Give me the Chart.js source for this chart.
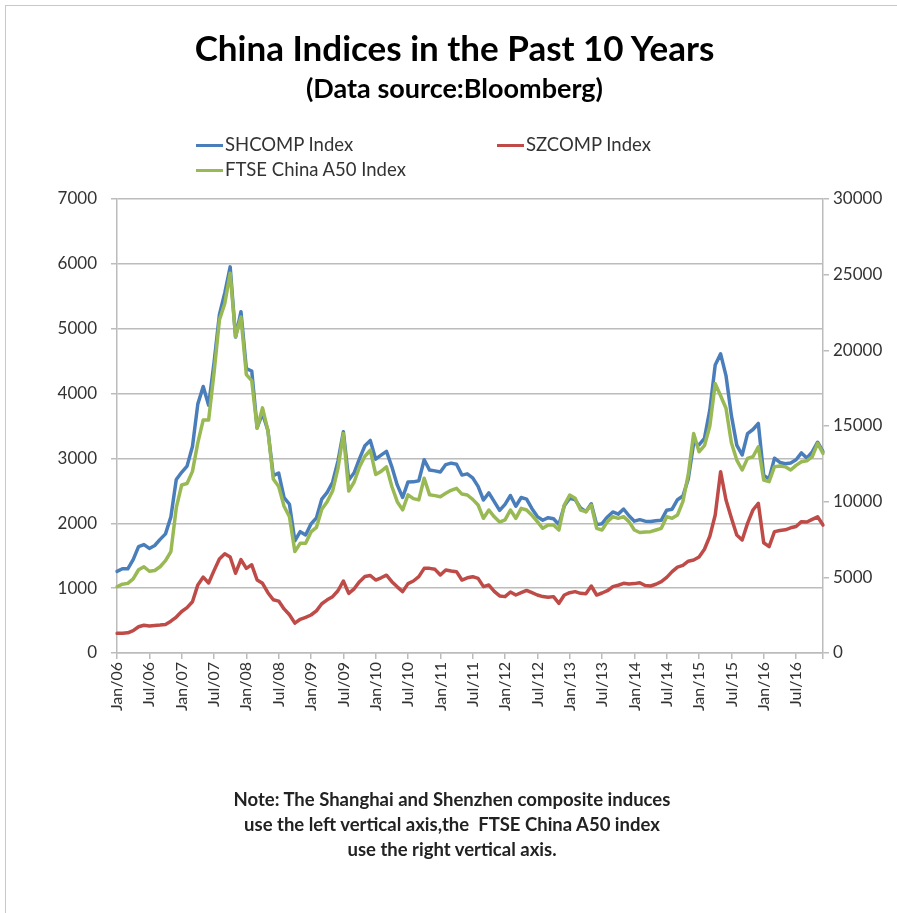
<!DOCTYPE html>
<html>
<head>
<meta charset="utf-8">
<script src="https://cdn.jsdelivr.net/npm/chart.js@4.4.0/dist/chart.umd.min.js"></script>
<style>
  body { margin:0; width:897px; height:913px; background:#fff; position:relative; overflow:hidden; font-family:Lato, "Open Sans", sans-serif; }
  #frame { position:absolute; left:5px; top:5px; width:900px; height:920px; border:1px solid #c8c8c8; }
  #chart { position:absolute; left:0; top:0; }
  .title { position:absolute; left:0; width:909px; text-align:center; font-weight:bold; color:#000; line-height:1.2; }
  .leg { position:absolute; font-size:18.5px; color:#333; white-space:nowrap; }
  .leg i { display:inline-block; width:27px; height:3px; vertical-align:middle; margin-right:2px; position:relative; top:-1px; }
  .note { position:absolute; left:0; width:904px; top:787px; text-align:center; font-weight:bold; font-size:18.5px; line-height:25px; color:#222; }
</style>
</head>
<body>
<div id="frame"></div>
<canvas id="chart" width="897" height="913"></canvas>
<div class="title" style="top:26px;font-size:35px;">China Indices in the Past 10 Years</div>
<div class="title" style="top:72px;font-size:27px;">(Data source:Bloomberg)</div>
<div id="legend"></div>
<div class="note">Note: The Shanghai and Shenzhen composite induces<br>use the left vertical axis,the&nbsp; FTSE China A50 index<br>use the right vertical axis.</div>
<script>
// month labels Jan/06 .. Dec/16
const monthNames = ["Jan","Feb","Mar","Apr","May","Jun","Jul","Aug","Sep","Oct","Nov","Dec"];
const years = ["06","07","08","09","10","11","12","13","14","15","16"];
const labels = [];
years.forEach(y => monthNames.forEach(m => labels.push(m + "/" + y)));

// SHCOMP Index (left axis)
const shcomp = [
  1258,1299,1298,1440,1641,1672,1612,1658,1752,1837,2099,2675,
  2786,2881,3183,3841,4109,3820,4471,5218,5552,5954,4871,5262,
  4383,4348,3473,3693,3433,2736,2775,2397,2293,1729,1871,1821,
  1991,2082,2373,2477,2633,2959,3412,2667,2779,2996,3195,3277,
  2989,3051,3109,2870,2592,2398,2638,2639,2656,2979,2820,2808,
  2790,2905,2928,2911,2743,2762,2701,2568,2359,2468,2333,2199,
  2292,2428,2263,2397,2373,2225,2103,2047,2086,2069,1980,2269,
  2385,2366,2237,2178,2301,1979,1994,2098,2175,2141,2220,2116,
  2033,2056,2033,2026,2039,2048,2202,2217,2364,2420,2683,3235,
  3210,3310,3748,4442,4612,4277,3664,3206,3053,3383,3446,3539,
  2738,2688,3004,2938,2917,2930,2979,3085,3005,3100,3250,3104
];
// SZCOMP Index (left axis)
const szcomp = [
  303,306,312,345,405,428,418,425,430,440,490,555,
  640,700,790,1050,1170,1080,1270,1450,1530,1480,1230,1440,
  1305,1360,1126,1074,930,820,800,680,590,460,520,550,
  586,650,760,820,869,960,1110,920,990,1100,1180,1195,
  1125,1160,1200,1100,1020,946,1070,1110,1177,1305,1305,1290,
  1203,1280,1265,1254,1125,1160,1177,1150,1023,1048,950,880,
  869,940,894,930,965,930,894,870,858,869,766,894,
  930,946,920,915,1033,894,925,960,1023,1045,1074,1064,
  1070,1084,1040,1033,1060,1100,1166,1254,1325,1350,1415,1434,
  1480,1600,1800,2128,2796,2359,2080,1819,1742,1999,2205,2308,
  1700,1640,1871,1890,1900,1930,1950,2025,2020,2061,2100,1973
];
// FTSE China A50 Index (right axis)
const a50 = [
  4380,4550,4600,4900,5500,5700,5400,5450,5700,6100,6700,9600,
  11100,11200,12000,13900,15400,15400,18500,22000,23100,25100,20900,22200,
  18400,18000,14850,16200,14700,11500,11000,9700,9000,6700,7250,7250,
  8000,8300,9500,10000,10700,12200,14500,10700,11300,12300,13000,13400,
  11800,12000,12300,11000,10000,9460,10450,10200,10120,11550,10450,10400,
  10330,10550,10750,10880,10500,10440,10150,9780,8900,9450,9000,8650,
  8800,9450,8900,9560,9450,9100,8680,8240,8460,8460,8130,9780,
  10440,10220,9450,9340,9780,8240,8130,8680,9010,8900,9010,8680,
  8130,7960,8000,8020,8130,8240,9010,8900,9120,10000,11800,14500,
  13300,13700,15000,17800,17000,16170,13900,12750,12090,12860,12970,13630,
  11430,11320,12310,12350,12300,12090,12400,12640,12700,12970,13850,13190
];

const leftTicks = [0, 7000, 1000];
const rightTicks = [0, 30000, 5000];

const series = [
  { label: "SHCOMP Index", data: shcomp, color: "#4a7ebb", axis: "y", order: 2, leg: [196, 133] },
  { label: "SZCOMP Index", data: szcomp, color: "#be4b48", axis: "y", order: 1, leg: [497, 133] },
  { label: "FTSE China A50 Index", data: a50, color: "#98b954", axis: "y1", order: 0, leg: [196, 158] }
];

const legend = document.getElementById("legend");
series.forEach(s => {
  legend.innerHTML += `<div class="leg" style="left:${s.leg[0]}px;top:${s.leg[1]}px"><i style="background:${s.color}"></i>${s.label}</div>`;
});

const gridCol = "#bcbcbc";
const tickFont = { family: "Lato", size: 17 };

new Chart(document.getElementById("chart"), {
  type: "line",
  data: {
    labels: labels,
    datasets: series.map(s => ({
      label: s.label, data: s.data, yAxisID: s.axis, order: s.order,
      borderColor: s.color, backgroundColor: s.color, borderWidth: 3.5,
      pointRadius: 0, tension: 0, borderJoinStyle: "round", borderCapStyle: "round"
    }))
  },
  options: {
    responsive: false,
    animation: false,
    devicePixelRatio: 1,
    layout: { padding: { top: 199, left: 0, right: 0, bottom: 0 } },
    plugins: { legend: { display: false }, tooltip: { enabled: false } },
    scales: {
      x: {
        afterFit: s => { s.height = 260; },
        grid: {
          drawOnChartArea: false, tickLength: 6, lineWidth: 1.5,
          color: c => (c.index % 6 === 0 || c.index === labels.length - 1) ? gridCol : "rgba(0,0,0,0)"
        },
        border: { color: gridCol, width: 1.5 },
        ticks: {
          autoSkip: false, maxRotation: 90, minRotation: 90, padding: 3,
          color: "#333", font: { family: "Lato", size: 16 },
          callback: (v, i) => i % 6 === 0 ? labels[i] : ""
        }
      },
      y: {
        position: "left", min: leftTicks[0], max: leftTicks[1],
        afterFit: s => { s.width = 117; },
        grid: { color: gridCol, lineWidth: 1.5, tickLength: 6 },
        border: { color: gridCol, width: 1.5 },
        ticks: { stepSize: leftTicks[2], padding: 14, color: "#333", font: tickFont, callback: v => String(v) }
      },
      y1: {
        position: "right", min: rightTicks[0], max: rightTicks[1],
        afterFit: s => { s.width = 74; },
        grid: { drawOnChartArea: false, color: gridCol, lineWidth: 1.5, tickLength: 6 },
        border: { color: gridCol, width: 1.5 },
        ticks: { stepSize: rightTicks[2], padding: 4, color: "#333", font: tickFont, callback: v => String(v) }
      }
    }
  }
});
</script>
</body>
</html>
